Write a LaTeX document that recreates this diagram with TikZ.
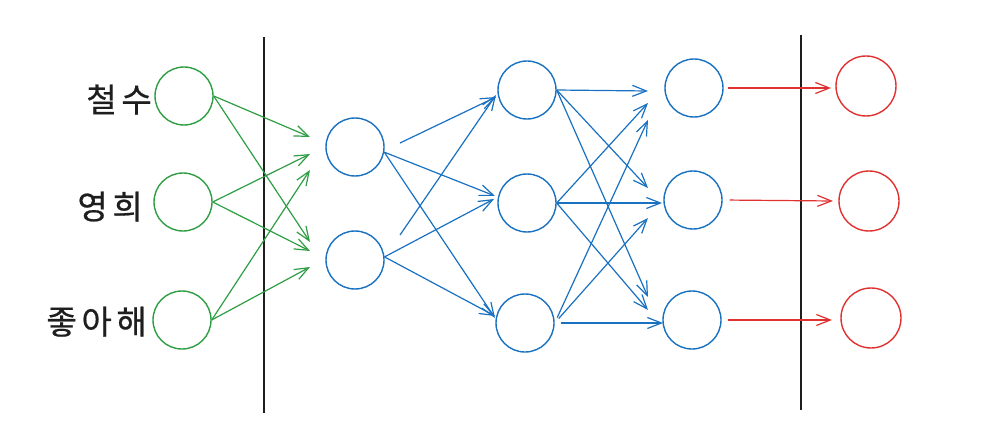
\documentclass[tikz,border=0pt]{standalone}
\usepackage{fontspec}
\newfontfamily\krfont[LetterSpace=14,FakeBold=0.6]{Noto Sans CJK KR}
\usetikzlibrary{arrows.meta,calc}
\definecolor{exgreen}{HTML}{2F9E44}
\definecolor{exblue}{HTML}{1971C2}
\definecolor{exred}{HTML}{E03131}
\definecolor{exblack}{HTML}{1E1E1E}
\tikzset{
  neuron/.style={circle,draw,line width=1.4pt,minimum size=58pt,inner sep=0pt},
  gnode/.style={neuron,draw=exgreen},
  bnode/.style={neuron,draw=exblue},
  rnode/.style={neuron,draw=exred,minimum size=60pt},
  conn/.style={line width=1.2pt,-{Straight Barb[length=14pt,width=11pt,line width=1.2pt]}},
  garr/.style={conn,draw=exgreen},
  barr/.style={conn,draw=exblue},
  rarr/.style={conn,draw=exred},
  divider/.style={draw=exblack,line width=1.8pt},
  lbl/.style={font=\krfont\fontsize{33pt}{36pt}\selectfont,text=exblack,inner sep=0pt,anchor=base east}
}
\begin{document}
\begin{tikzpicture}[x=1pt,y=-1pt]
\useasboundingbox[fill=white] (0,0) rectangle (991,433);
% dividers
\coordinate (v1t) at (264,37); \coordinate (v1b) at (264,413);
\coordinate (v2t) at (801,35); \coordinate (v2b) at (801,410);
\draw[divider] (v1t) -- (v1b);
\draw[divider] (v2t) -- (v2b);
% input layer
\node[gnode] (g1) at (184,96) {};
\node[gnode] (g2) at (183,202) {};
\node[gnode] (g3) at (182,320) {};
\node[lbl] (t1) at (152,112) {철수};
\node[lbl] (t2) at (143,219) {영희};
\node[lbl] (t3) at (147,334) {좋아해};
% hidden 1
\node[bnode] (h1) at (355,147) {};
\node[bnode] (h2) at (355,260) {};
% hidden 2
\node[bnode] (m1) at (527,90) {};
\node[bnode] (m2) at (527,203) {};
\node[bnode] (m3) at (525,323) {};
% hidden 3
\node[bnode] (o1) at (694,88) {};
\node[bnode] (o2) at (693,200) {};
\node[bnode] (o3) at (692,320) {};
% output
\node[rnode] (r1) at (866,86) {};
\node[rnode] (r2) at (869,201) {};
\node[rnode] (r3) at (871,318) {};
% arrow end coordinates
\coordinate (e11) at (310,137); \coordinate (e12) at (310,242);
\coordinate (e21) at (310,154); \coordinate (e22) at (310,251);
\coordinate (e31) at (310,170); \coordinate (e32) at (310,267);
\coordinate (s1) at (400,143); \coordinate (s2) at (400,235);
\coordinate (f1) at (496,97);
\coordinate (f12) at (495,196); \coordinate (f13) at (495,318);
\coordinate (f21) at (496,95);
\coordinate (f22) at (494,199); \coordinate (f23) at (495,316);
\coordinate (k11) at (648,91); \coordinate (k12) at (648,188); \coordinate (k13) at (648,297);
\coordinate (k21) at (648,103); \coordinate (k22) at (662,203); \coordinate (k23) at (648,310);
\coordinate (k31) at (648,120); \coordinate (k32) at (648,218); \coordinate (k33) at (663,323);
\coordinate (q1) at (831,88); \coordinate (q2) at (833,201); \coordinate (q3) at (832,320);
% green arrows
\draw[garr] (g1.east) -- (e11);
\draw[garr] (g1.east) -- (e12);
\draw[garr] (g2.east) -- (e21);
\draw[garr] (g2.east) -- (e22);
\draw[garr] (g3.east) -- (e31);
\draw[garr] (g3.east) -- (e32);
% hidden1 -> hidden2
\draw[barr] (s1) -- (f1);
\draw[barr] (h1.-10) -- (f12);
\draw[barr] (h1.-10) -- (f13);
\draw[barr] (s2) -- (f21);
\draw[barr] (h2.6) -- (f22);
\draw[barr] (h2.6) -- (f23);
% hidden2 -> hidden3
\draw[barr] (m1.east) -- (k11);
\draw[barr] (m1.east) -- (k12);
\draw[barr] (m1.east) -- (k13);
\draw[barr] (m2.east) -- (k21);
\draw[barr] (m2.east) -- (k22);
\draw[barr] (m2.east) -- (k23);
\draw[barr,shorten <=6pt] (m3.east) -- (k31);
\draw[barr,shorten <=6pt] (m3.east) -- (k32);
\draw[barr,shorten <=6pt] (m3.east) -- (k33);
% output arrows
\draw[rarr,shorten <=4pt] (o1.east) -- (q1);
\draw[rarr,shorten <=7pt] (o2.east) -- (q2);
\draw[rarr,shorten <=6pt] (o3.east) -- (q3);
\end{tikzpicture}
\end{document}
